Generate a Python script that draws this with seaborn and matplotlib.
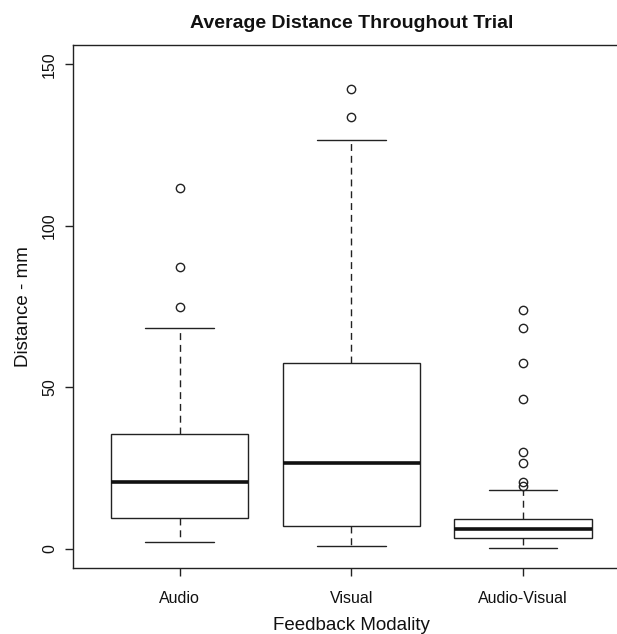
import numpy as np
import pandas as pd
import seaborn as sns
import matplotlib
matplotlib.use("Agg")
import matplotlib.pyplot as plt

# categories in plotting order
categories = ["Audio", "Visual", "Audio-Visual"]

# per-group samples (hand-picked so the box stats match the figure)
audio = [1.9, 3.5, 5.8, 8.0, 9.6, 11.5, 14.0, 17.2, 20.5, 23.8, 27.5, 31.2,
         35.6, 68.2, 75.0, 87.2, 111.6]
visual = [0.9, 2.5, 4.6, 7.1, 12.0, 19.5, 26.6, 35.0, 46.0, 57.6, 126.7,
          133.8, 142.5]
audio_visual = [0.2, 0.6, 1.0, 1.4, 1.8, 2.1, 2.4, 2.7, 3.0, 3.2, 3.6, 4.0,
                4.3, 4.7, 5.0, 5.3, 5.6, 5.9, 6.2, 6.5, 6.8, 7.1, 7.5, 7.8,
                8.2, 8.6, 9.0, 9.3, 18.2, 19.3, 20.5, 26.4, 30.0, 46.2, 57.5,
                68.3, 73.8]

y_ticks = [0, 50, 100, 150]

df = pd.DataFrame({
    "modality": ["Audio"] * len(audio) + ["Visual"] * len(visual)
                + ["Audio-Visual"] * len(audio_visual),
    "distance": audio + visual + audio_visual,
})

sns.set_theme(style="white")
plt.rcParams["font.family"] = ["Liberation Sans", "DejaVu Sans"]

ink = "#222222"
fig = plt.figure(figsize=(6.17, 6.34), dpi=100)
# the right edge of the frame falls just outside the picture, as in the original
ax = fig.add_axes([0.1188, 0.1041, 0.9016, 0.8249])

sns.boxplot(
    data=df, x="modality", y="distance", order=categories,
    width=0.8, color="white", saturation=1, linecolor=ink, linewidth=1.0,
    fliersize=6, whis=1.5,
    medianprops={"linewidth": 2.6, "color": "#111111"},
    whiskerprops={"linestyle": (0, (5, 3.5))},
    flierprops={"marker": "o", "markerfacecolor": "none",
                "markeredgecolor": ink, "markeredgewidth": 1.0},
    ax=ax,
)

ax.set_xlim(-0.62, 2.62)
ax.set_ylim(-6, 156)
ax.set_yticks(y_ticks)
ax.set_yticklabels([str(t) for t in y_ticks], rotation=90, va="center")

for s in ax.spines.values():
    s.set_color(ink)
    s.set_linewidth(1.0)
ax.spines["right"].set_visible(False)

ax.tick_params(axis="both", bottom=True, left=True, length=5.8, width=1,
               color=ink, labelsize=11.5, labelcolor="#111111")
ax.tick_params(axis="x", pad=10.5)
ax.tick_params(axis="y", pad=6)

ax.set_xlabel("Feedback Modality", fontsize=13.5, labelpad=8.5, color="#111111")
ax.set_ylabel("Distance - mm", fontsize=13.5, labelpad=7, color="#111111")
ax.set_title("Average Distance Throughout Trial", fontsize=14,
             fontweight="bold", pad=12, color="#111111")

fig.savefig("out.png", dpi=100)
plt.close(fig)
